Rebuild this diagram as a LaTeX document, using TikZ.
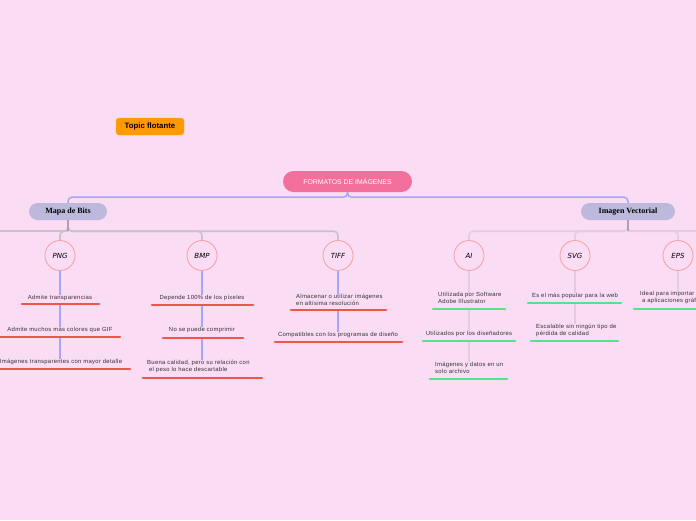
\documentclass[tikz,border=0pt]{standalone}
\usepackage{fontspec}
\setmainfont{Liberation Sans}
\newfontfamily\serifbold{Liberation Serif}
\newfontfamily\handfont{DejaVu Sans}
\newfontfamily\itemfont[LetterSpace=5]{Liberation Sans}
\definecolor{bgc}{HTML}{FADCF4}
\definecolor{rootc}{HTML}{F36F9C}
\definecolor{orangec}{HTML}{FF9900}
\definecolor{lavc}{HTML}{BDB9DC}
\definecolor{bluec}{HTML}{A6A6F6}
\definecolor{grayc}{HTML}{C9C0C9}
\definecolor{darkgrayc}{HTML}{ACA4AC}
\definecolor{lightc}{HTML}{E4CCE0}
\definecolor{salmonc}{HTML}{F4A0A0}
\definecolor{redc}{HTML}{EE5646}
\definecolor{greenc}{HTML}{55E38A}
\definecolor{textc}{HTML}{333333}
\begin{document}
\begin{tikzpicture}[x=1pt,y=-1pt,
  rootbox/.style={fill=rootc,rounded corners=10.5pt,minimum width=129pt,minimum height=21pt,inner sep=0pt,text=white,font=\fontsize{6.9}{7}\selectfont},
  topicbox/.style={fill=orangec,draw=orangec!80!white,rounded corners=3pt,minimum width=68pt,minimum height=17pt,inner sep=0pt,text=black,font=\fontsize{7.8}{8}\selectfont\bfseries},
  mainbox/.style={fill=lavc,rounded corners=8.5pt,minimum height=17pt,inner sep=0pt,text=black,font=\serifbold\fontsize{8}{9}\selectfont\bfseries},
  fmt/.style={circle,draw=salmonc,line width=0.8pt,fill=bgc,minimum size=30pt,inner sep=0pt,text=black,font=\handfont\itshape\fontsize{7}{8}\selectfont},
  itm/.style={inner sep=0pt,text=textc,font=\itemfont\fontsize{5.9}{7}\selectfont},
  topline/.style={draw=bluec,line width=1.5pt,rounded corners=4pt},
  lvtwo/.style={draw=grayc,line width=1.6pt,rounded corners=4pt},
  lvtwodark/.style={draw=darkgrayc,line width=1.6pt},
  lvtwor/.style={draw=lightc,line width=1.6pt,rounded corners=4pt},
  vblue/.style={draw=bluec,line width=1.2pt},
  vlight/.style={draw=lightc,line width=1.2pt},
  ured/.style={draw=redc,line width=2.8pt,line cap=round},
  ugreen/.style={draw=greenc,line width=2.8pt,line cap=round}]
\useasboundingbox (0,0) rectangle (696,520);
\fill[bgc] (0,0) rectangle (696,520);
\clip (0,0) rectangle (696,520);

% main nodes
\node[topicbox] (float) at (150,126.5) {Topic flotante};
\node[rootbox] (root) at (347.5,181.5) {FORMATOS DE IMÁGENES};
\node[mainbox,minimum width=78pt] (mapa) at (68,211.5) {Mapa de Bits};
\node[mainbox,minimum width=94pt] (vect) at (628,211.5) {Imagen Vectorial};

\draw[topline] (root.south) -- ++(0,5) -| (mapa.north);
\draw[topline] (root.south) -- ++(0,5) -| (vect.north);

% format circles
\node[fmt] (png) at (60,255.5) {PNG};
\node[fmt] (bmp) at (202,255.5) {BMP};
\node[fmt] (tiff) at (338,255.5) {TIFF};
\node[fmt] (ai) at (469,255.5) {AI};
\node[fmt] (svg) at (575,255.5) {SVG};
\node[fmt] (eps) at (678,255.5) {EPS};

\coordinate (leftend) at (0,231);
\coordinate (rightend) at (696,231);
\draw[lvtwo] (leftend) -- (mapa.south |- leftend);
\draw[lvtwo] (mapa.south) -- ++(0,11) -| (png.north);
\draw[lvtwo] (mapa.south) -- ++(0,11) -| (bmp.north);
\draw[lvtwo] (mapa.south) -- ++(0,11) -| (tiff.north);
\draw[lvtwodark] (mapa.south) -- (mapa.south |- leftend);
\draw[lvtwor] (vect.south) -- ++(0,11) -| (ai.north);
\draw[lvtwor] (vect.south) -- ++(0,11) -| (svg.north);
\draw[lvtwor] (vect.south) -- ++(0,11) -| (eps.north);
\draw[lvtwor] (vect.south |- rightend) -- (rightend);
\draw[lvtwodark] (vect.south) -- (vect.south |- rightend);

% PNG items
\node[itm] (p1) at (60,297.5) {Admite transparencias};
\coordinate (p1a) at (22,304); \coordinate (p1b) at (99,304); \coordinate (p1u) at (60,305);
\node[itm] (p2) at (60,329.5) {Admite muchos más colores que GIF};
\coordinate (p2a) at (0,337); \coordinate (p2b) at (120,337); \coordinate (p2u) at (60,338);
\node[itm] (p3) at (61,362) {Imágenes transparentes con mayor detalle};
\coordinate (p3a) at (0,369); \coordinate (p3b) at (130,369);
\draw[ured] (p1a) -- (p1b);
\draw[ured] (p2a) -- (p2b);
\draw[ured] (p3a) -- (p3b);
\draw[vblue] (png) -- (p1);
\draw[vblue] (p1u) -- (p2);
\draw[vblue] (p2u) -- (p2u |- p3.north);

% BMP items
\node[itm] (b1) at (202,298) {Depende 100\% de los píxeles};
\coordinate (b1a) at (152,305); \coordinate (b1b) at (253,305); \coordinate (b1u) at (202,306);
\node[itm] (b2) at (202,330) {No se puede comprimir};
\coordinate (b2a) at (163,338); \coordinate (b2b) at (243,338); \coordinate (b2u) at (202,339);
\node[itm,align=left,anchor=north west] (b3) at (147,359.5) {Buena calidad, pero su relación con\\\ el peso lo hace descartable};
\coordinate (b3a) at (143,378); \coordinate (b3b) at (262,378);
\draw[ured] (b1a) -- (b1b);
\draw[ured] (b2a) -- (b2b);
\draw[ured] (b3a) -- (b3b);
\draw[vblue] (bmp) -- (b1);
\draw[vblue] (b1u) -- (b2);
\draw[vblue] (b2u) -- (b2u |- b3.north);

% TIFF items
\node[itm,align=left,anchor=north west] (t1) at (296,293.5) {Almacenar o utilizar imágenes\\en altísima resolución};
\coordinate (t1a) at (291,310); \coordinate (t1b) at (386,310); \coordinate (t1u) at (338,311);
\node[itm] (t2) at (338,335) {Compatibles con los programas de diseño};
\coordinate (t2a) at (275,342); \coordinate (t2b) at (402,342);
\draw[ured] (t1a) -- (t1b);
\draw[ured] (t2a) -- (t2b);
\draw[vblue] (tiff.south) -- (tiff.south |- t1.north);
\draw[vblue] (t1u) -- (t2);

% AI items
\node[itm,align=left,anchor=north west] (a1) at (438,292.5) {Utilizada por Software\\Adobe Illustrator};
\coordinate (a1a) at (433,309); \coordinate (a1b) at (505,309); \coordinate (a1u) at (469,310);
\node[itm] (a2) at (469,334) {Utilizados por los diseñadores};
\coordinate (a2a) at (423,341); \coordinate (a2b) at (515,341); \coordinate (a2u) at (469,342);
\node[itm,align=left,anchor=north west] (a3) at (435,361.5) {Imágenes y datos en un\\solo archivo};
\coordinate (a3a) at (430,379); \coordinate (a3b) at (507,379);
\draw[ugreen] (a1a) -- (a1b);
\draw[ugreen] (a2a) -- (a2b);
\draw[ugreen] (a3a) -- (a3b);
\draw[vlight] (ai.south) -- (ai.south |- a1.north);
\draw[vlight] (a1u) -- (a2);
\draw[vlight] (a2u) -- (a2u |- a3.north);

% SVG items
\node[itm] (s1) at (575,296) {Es el más popular para la web};
\coordinate (s1a) at (528,303); \coordinate (s1b) at (621,303); \coordinate (s1u) at (575,304);
\node[itm,align=left,anchor=north west] (s2) at (536,323.5) {Escalable sin ningún tipo de\\pérdida de calidad};
\coordinate (s2a) at (531,341); \coordinate (s2b) at (618,341);
\draw[ugreen] (s1a) -- (s1b);
\draw[ugreen] (s2a) -- (s2b);
\draw[vlight] (svg) -- (s1);
\draw[vlight] (s1u) -- (s1u |- s2.north);

% EPS items
\node[itm,align=left,anchor=north west] (e1) at (640,291.5) {Ideal para importar archivos\\\ a aplicaciones gráficas};
\coordinate (e1a) at (634,309); \coordinate (e1b) at (710,309);
\draw[ugreen] (e1a) -- (e1b);
\draw[vlight] (eps.south) -- (eps.south |- e1.north);
\end{tikzpicture}
\end{document}
